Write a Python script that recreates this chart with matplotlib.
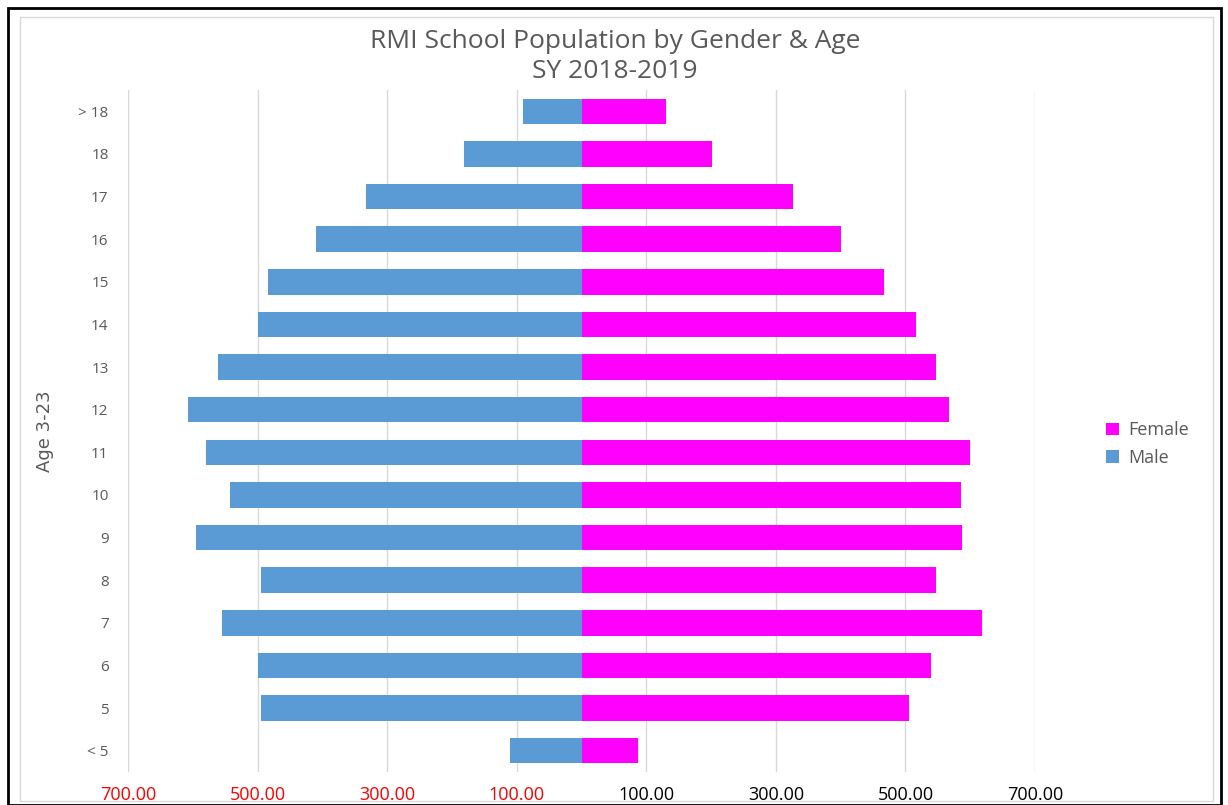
import matplotlib.pyplot as plt
from matplotlib.patches import Rectangle

# data
ages = ["< 5", "5", "6", "7", "8", "9", "10", "11", "12", "13", "14", "15", "16", "17", "18", "> 18"]
male = [111, 495, 499, 555, 495, 595, 542, 580, 607, 561, 499, 484, 410, 332, 181, 91]
female = [87, 505, 539, 618, 547, 587, 586, 600, 567, 547, 516, 467, 400, 326, 202, 131]
tick_vals = [-700, -500, -300, -100, 100, 300, 500, 700]

plt.rcParams['font.family'] = ['Open Sans', 'DejaVu Sans']

fig = plt.figure(figsize=(12.28, 8.05), dpi=100)

# outer black frame and inner light chart border
fig.patches.append(Rectangle((8/1228, 0), 1213/1228, 797/805, transform=fig.transFigure,
                             fill=False, edgecolor='black', linewidth=2))
fig.patches.append(Rectangle((20/1228, 4/805), 1193/1228, 784/805, transform=fig.transFigure,
                             fill=False, edgecolor='#d9d9d9', linewidth=1))

ax = fig.add_axes([128/1228, 1 - 772/805, (1035 - 128)/1228, (772 - 90)/805])

y = list(range(len(ages)))
ax.barh(y, [-m for m in male], height=0.6, color='#5b9bd5', label='Male', zorder=3)
ax.barh(y, female, height=0.6, color='#ff00ff', label='Female', zorder=3)

ax.set_xlim(-700, 700)
ax.set_ylim(-0.5, len(ages) - 0.5)
ax.set_xticks(tick_vals)
ax.set_xticklabels([f"{abs(v):.2f}" for v in tick_vals], fontsize=13)
for lbl, v in zip(ax.get_xticklabels(), tick_vals):
    lbl.set_color('red' if v < 0 else 'black')
ax.set_yticks(y)
ax.set_yticklabels(ages, fontsize=11, color='#595959')
ax.tick_params(length=0, axis='both')
ax.tick_params(axis='x', pad=10)
ax.tick_params(axis='y', pad=14)
ax.grid(axis='x', color='#d9d9d9', linewidth=1, zorder=0)
for s in ax.spines.values():
    s.set_visible(False)

ax.set_ylabel('Age 3-23', fontsize=13, color='#595959', family=['Liberation Sans Narrow', 'DejaVu Sans'])
ax.yaxis.set_label_coords(-0.082, 0.5)

fig.text(615/1228, 1 - 42/805, 'RMI School Population by Gender & Age', ha='center', va='center',
         fontsize=19, color='#595959')
fig.text(615/1228, 1 - 71/805, 'SY 2018-2019', ha='center', va='center', fontsize=19, color='#595959')

handles, labels = ax.get_legend_handles_labels()
fig.legend(handles[::-1], labels[::-1], loc='center left', bbox_to_anchor=(1090/1228, 1 - 444/805),
           frameon=False, fontsize=13, handlelength=0.7, handleheight=0.7, labelcolor='#595959',
           labelspacing=0.5, handletextpad=0.5)

fig.savefig('out.png', dpi=100)
